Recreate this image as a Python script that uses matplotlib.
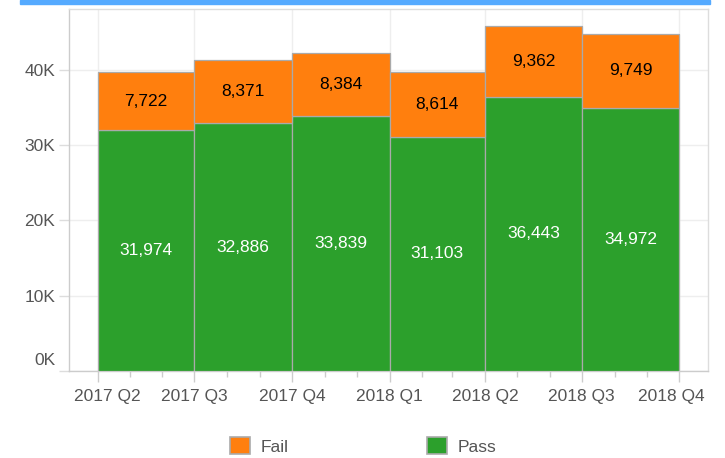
import datetime as dt
import matplotlib
matplotlib.use("Agg")
import matplotlib.pyplot as plt
import matplotlib.dates as mdates
import matplotlib.transforms as mtrans
from matplotlib.patches import Patch, Rectangle

# quarter boundaries (start of each quarter) and the results per quarter
quarter_starts = ["2017-04-01", "2017-07-01", "2017-10-01",
                  "2018-01-01", "2018-04-01", "2018-07-01", "2018-10-01"]
tick_labels = ["2017 Q2", "2017 Q3", "2017 Q4", "2018 Q1",
               "2018 Q2", "2018 Q3", "2018 Q4"]
pass_counts = [31974, 32886, 33839, 31103, 36443, 34972]
fail_counts = [7722, 8371, 8384, 8614, 9362, 9749]

PASS_COLOR = "#2ca02c"
FAIL_COLOR = "#ff7f0e"
EDGE = "#aaaaaa"
TEXT = "#555555"

plt.rcParams["font.family"] = ["Liberation Sans", "DejaVu Sans"]


def to_num(s):
    return mdates.date2num(dt.datetime.strptime(s, "%Y-%m-%d"))


def shift(label, dx, dy, fig):
    label.set_transform(label.get_transform() +
                        mtrans.ScaledTranslation(dx / 100, dy / 100, fig.dpi_scale_trans))


def main():
    edges = [to_num(s) for s in quarter_starts]
    lefts = edges[:-1]
    widths = [b - a for a, b in zip(edges[:-1], edges[1:])]

    fig = plt.figure(figsize=(7.25, 4.58), dpi=100)
    ax = fig.add_axes([69 / 725, 87 / 458, 639 / 725, 362 / 458])

    # blue band along the top of the card
    fig.patches.append(Rectangle((20 / 725, 1 - 3.5 / 458), 690 / 725, 3.5 / 458,
                                 transform=fig.transFigure, color="#55aaff",
                                 zorder=0))

    ax.bar(lefts, pass_counts, width=widths, align="edge", color=PASS_COLOR,
           edgecolor=EDGE, linewidth=0.9, zorder=3)
    ax.bar(lefts, fail_counts, width=widths, bottom=pass_counts, align="edge",
           color=FAIL_COLOR, edgecolor=EDGE, linewidth=0.9, zorder=3)

    for x, w, p, f in zip(lefts, widths, pass_counts, fail_counts):
        ax.text(x + w / 2, p / 2, f"{p:,}", ha="center", va="center",
                color="white", fontsize=12.5, zorder=4)
        ax.text(x + w / 2, p + f / 2, f"{f:,}", ha="center", va="center",
                color="black", fontsize=12.5, zorder=4)

    ax.set_xlim(to_num("2017-03-05"), to_num("2018-10-28"))
    ax.set_ylim(0, 48074)

    ax.set_xticks(edges)
    ax.set_xticklabels(tick_labels)
    ax.xaxis.set_minor_locator(mdates.MonthLocator())
    ax.set_yticks([0, 10000, 20000, 30000, 40000])
    ax.set_yticklabels(["0K", "10K", "20K", "30K", "40K"])

    ax.tick_params(axis="x", which="major", length=8, width=1, color="#cccccc",
                   labelsize=12.5, labelcolor=TEXT, pad=5)
    ax.tick_params(axis="x", which="minor", length=4, width=1, color="#cccccc")
    ax.tick_params(axis="y", length=7, width=1, color="#dddddd",
                   labelsize=12.5, labelcolor=TEXT, pad=3)

    # keep the end labels inside the card
    xl = ax.get_xticklabels()
    shift(xl[0], 10, 0, fig)
    shift(xl[-1], -8, 0, fig)
    # the 0K label sits above the baseline
    shift(ax.get_yticklabels()[0], 0, 12, fig)

    ax.grid(True, which="major", color="#eeeeee", linewidth=1, zorder=0)
    ax.set_axisbelow(True)
    for side in ["top", "right", "left", "bottom"]:
        ax.spines[side].set_color("#dddddd")
        ax.spines[side].set_linewidth(1)
    ax.spines["left"].set_color("#cccccc")
    ax.spines["bottom"].set_color("#cccccc")

    handles = [Patch(facecolor=FAIL_COLOR, edgecolor=EDGE, linewidth=1.2),
               Patch(facecolor=PASS_COLOR, edgecolor=EDGE, linewidth=1.2)]
    fig.legend(handles, ["Fail", "Pass"], loc="center",
               bbox_to_anchor=(363 / 725, 12 / 458), ncol=2, frameon=False,
               fontsize=12.5, labelcolor=TEXT, handlelength=1.15,
               handleheight=1.1, handletextpad=0.6, columnspacing=8.0)

    fig.savefig("out.png", dpi=100)


if __name__ == "__main__":
    main()
